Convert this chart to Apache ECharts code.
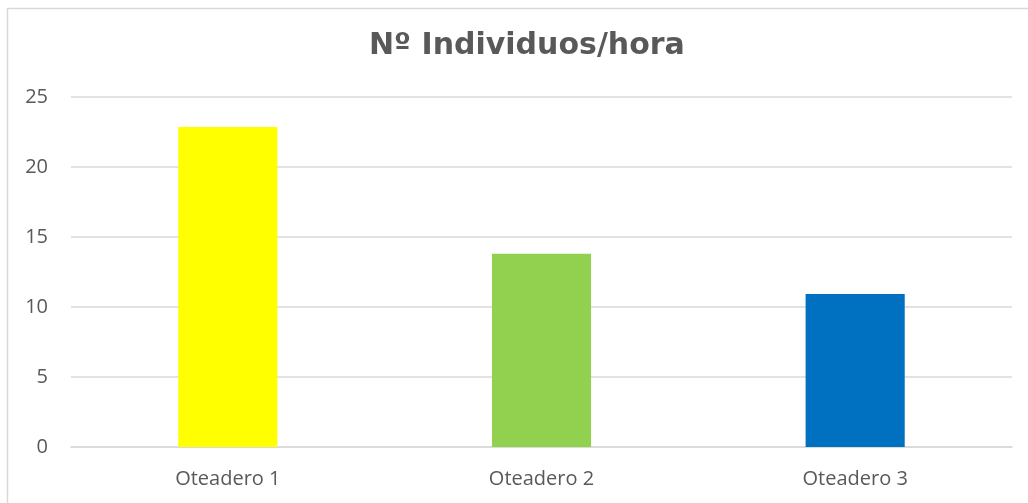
<!DOCTYPE html>
<html>
<head>
<meta charset="utf-8">
<script src="https://cdn.jsdelivr.net/npm/echarts@6/dist/echarts.min.js"></script>
<style>
  html, body { margin: 0; padding: 0; background: #fff; }
  #chart { width: 1028px; height: 503px; }
</style>
</head>
<body>
<div id="chart"></div>
<script>
  // datos
  var categories = ['Oteadero 1', 'Oteadero 2', 'Oteadero 3'];
  var values = [22.86, 13.8, 10.93];
  var barColors = ['#FFFF00', '#92D050', '#0070C0'];
  var yTicks = [0, 5, 10, 15, 20, 25];

  var chart = echarts.init(document.getElementById('chart'));
  var option = {
    animation: false,
    backgroundColor: '#fff',
    title: {
      text: 'Nº Individuos/hora',
      left: 364,
      top: 26,
      textStyle: {
        fontFamily: 'DejaVu Sans',
        fontWeight: 'bold',
        fontSize: 30,
        color: '#595959'
      }
    },
    graphic: [{
      type: 'rect',
      shape: { x: 7.5, y: 8.5, width: 1100, height: 600 },
      style: { fill: 'none', stroke: '#D9D9D9', lineWidth: 1.5 },
      silent: true
    }],
    grid: { left: 71, right: 16, top: 97, bottom: 56 },
    xAxis: {
      type: 'category',
      data: categories,
      axisLine: { show: true, lineStyle: { color: '#D9D9D9', width: 1.5 } },
      axisTick: { show: false },
      axisLabel: {
        margin: 22,
        fontFamily: 'Open Sans',
        fontSize: 20,
        color: '#595959'
      }
    },
    yAxis: {
      type: 'value',
      min: yTicks[0],
      max: yTicks[yTicks.length - 1],
      interval: 5,
      axisLine: { show: false },
      axisTick: { show: false },
      splitLine: { lineStyle: { color: '#D9D9D9', width: 1.5 } },
      axisLabel: {
        margin: 23,
        fontFamily: 'Open Sans',
        fontSize: 20,
        color: '#595959'
      }
    },
    series: [{
      type: 'bar',
      barWidth: '31.6%',
      data: values.map(function (v, i) {
        return { value: v, itemStyle: { color: barColors[i] } };
      })
    }]
  };
  chart.setOption(option);
</script>
</body>
</html>
